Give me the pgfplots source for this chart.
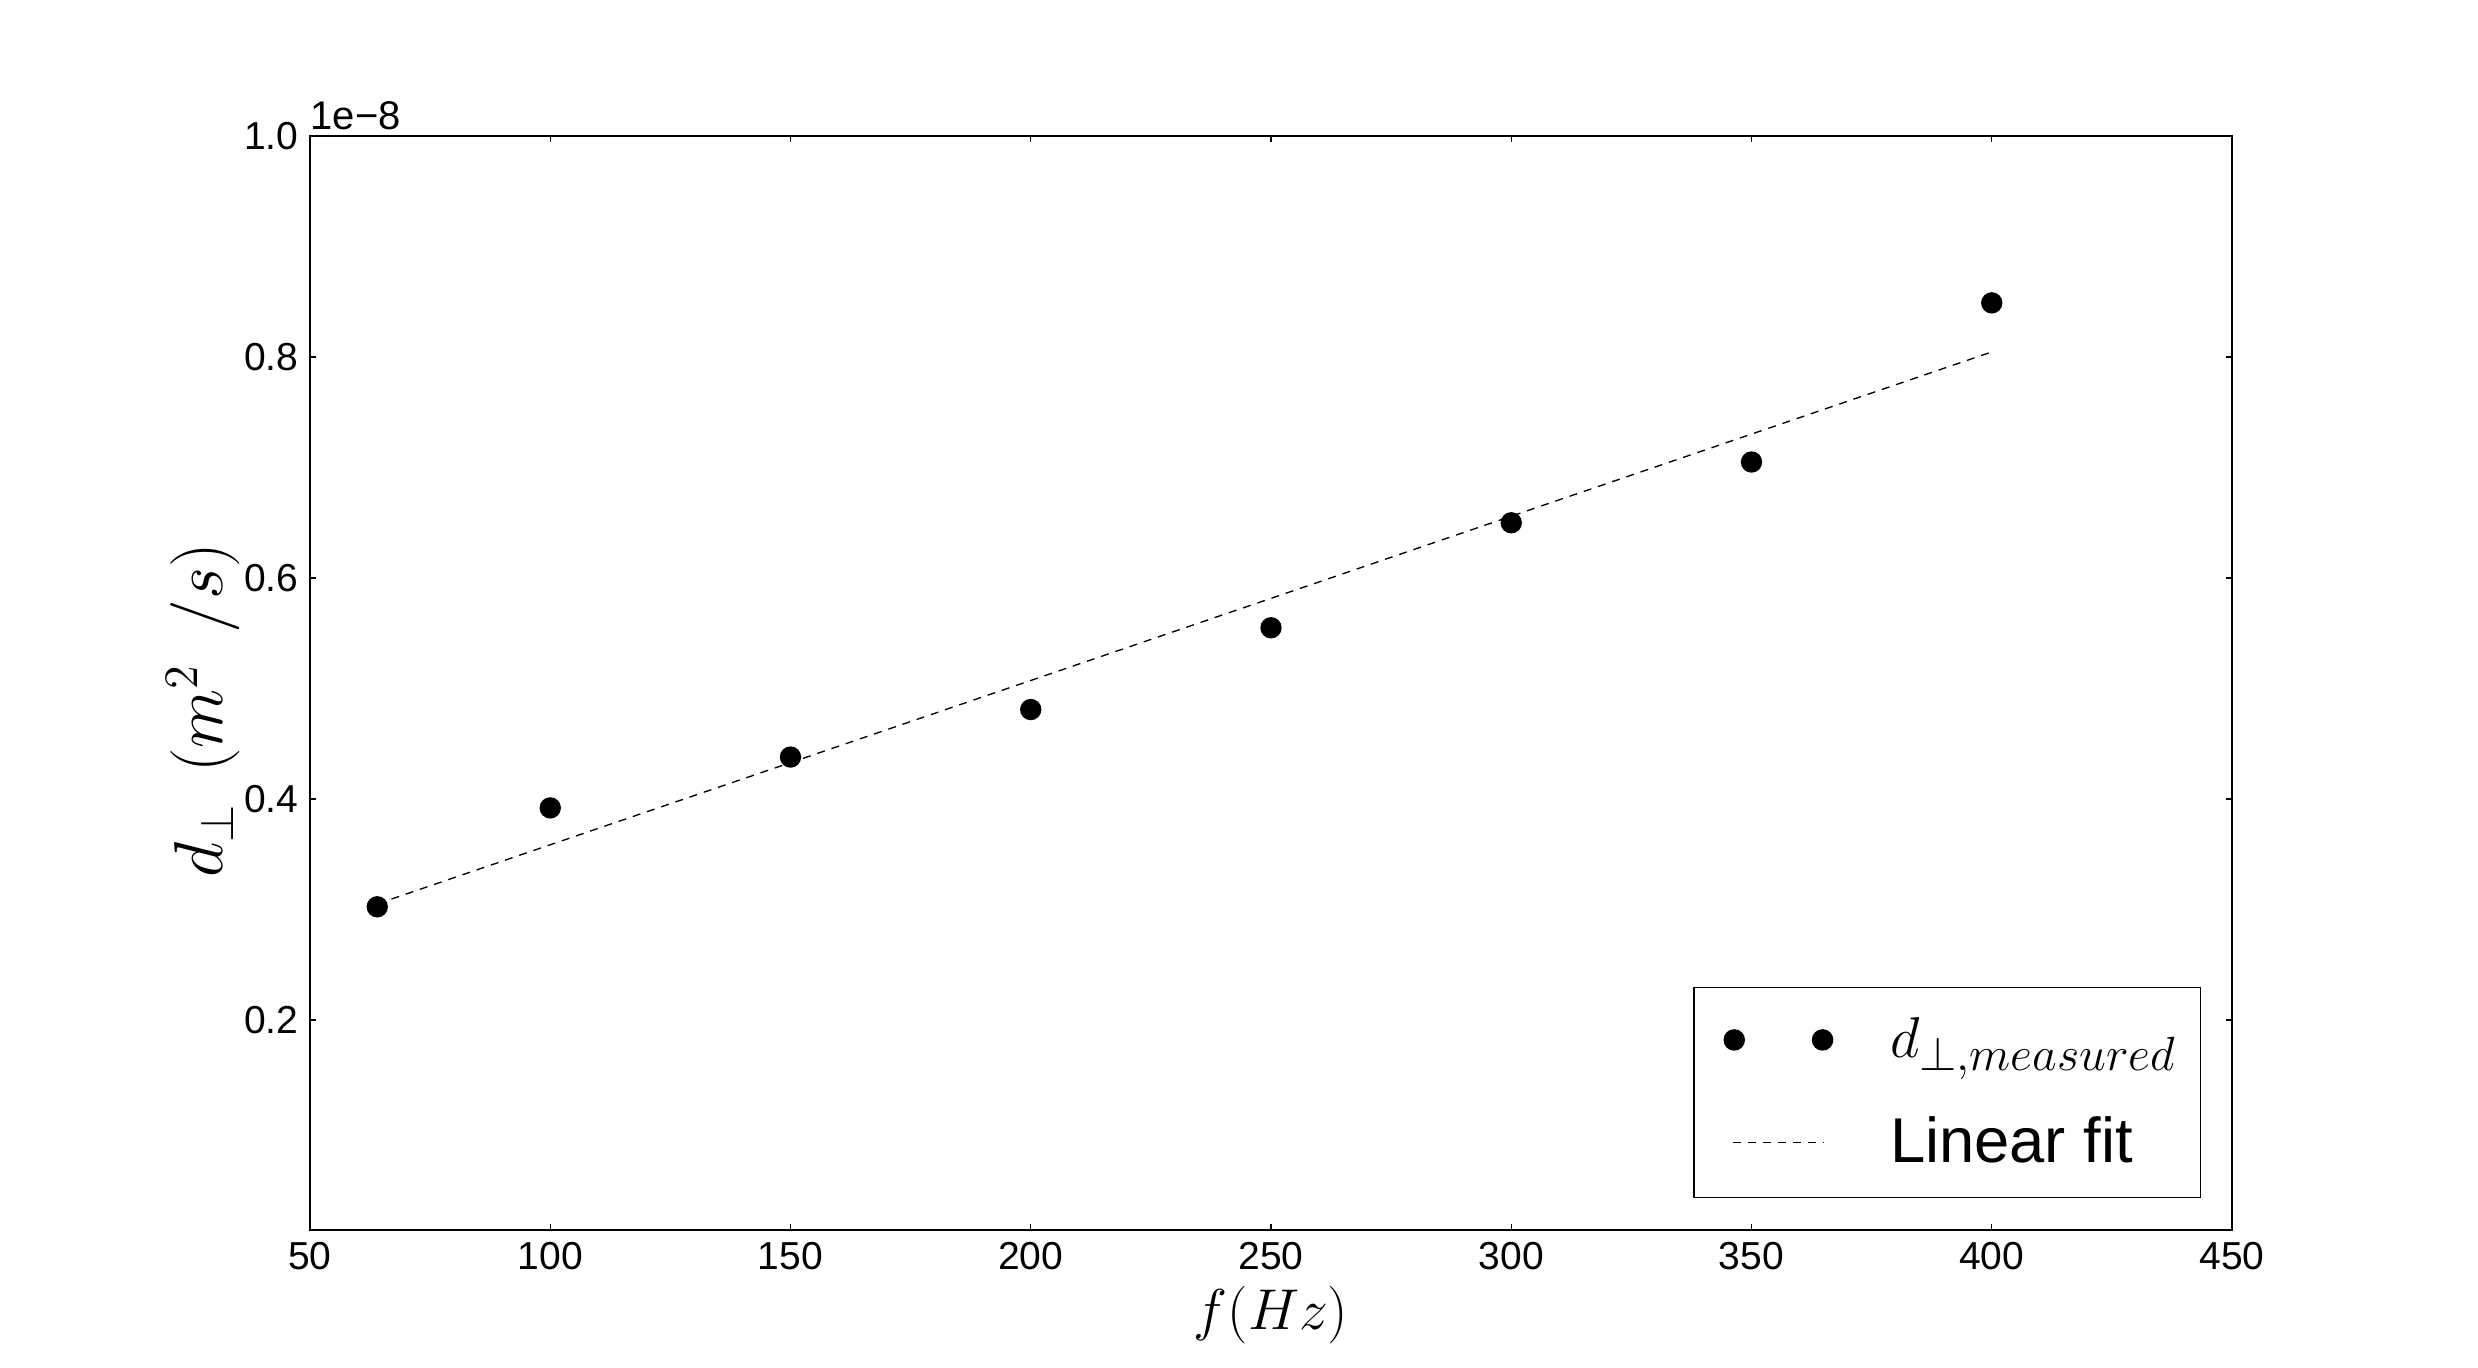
\documentclass[border=0pt]{standalone}
\usepackage[no-math]{fontspec}
\setmainfont{Liberation Sans}
\usepackage{pgfplots}
\pgfplotsset{compat=1.18}
\begin{document}
\begin{tikzpicture}
\begin{axis}[
  name=ax,
  scale only axis,
  clip mode=individual,
  width=576.6pt, height=328.2pt,
  xmin=50, xmax=450, ymin=0.01, ymax=1.0,
  xtick={50,100,150,200,250,300,350,400,450},
  ytick={0.2,0.4,0.6,0.8,1.0},
  /pgf/number format/assume math mode=true,
  yticklabel style={/pgf/number format/fixed,/pgf/number format/precision=1,/pgf/number format/fixed zerofill},
  xticklabel style={/pgf/number format/fixed},
  tick label style={font=\fontsize{11.7}{14}\selectfont},
  major tick length=1.8pt,
  tick align=inside,
  axis line style={line width=0.45pt},
  tick style={line width=0.4pt, black},
  xlabel={$f(Hz)$},
  ylabel={$d_{\perp}\ \,(m^2\ \,/s)$},
  xlabel style={font=\fontsize{18.7}{22}\selectfont, at={(axis description cs:0.5,-0.0777)}, anchor=center},
  ylabel style={font=\fontsize{20.3}{22}\selectfont, at={(axis description cs:-0.0555,0.475)}, anchor=center},
  legend cell align=left,
  legend style={at={(rel axis cs:0.984,0.0289)}, anchor=south east,
    draw=black, line width=0.45pt, font=\fontsize{19}{22}\selectfont,
    inner xsep=7.2pt, inner ysep=9pt, row sep=16.3pt, column sep=17pt,
    nodes={inner sep=0pt}},
]
\addplot[only marks, mark=*, mark size=3pt, black,
  legend image code/.code={\path[draw=none,fill=none] (-4.8pt,-0.1pt) rectangle (29.5pt,0.1pt); \fill[black] (0pt,0pt) circle (3pt); \fill[black] (26.5pt,0pt) circle (3pt);}]
  coordinates {(64,0.3025) (100,0.392) (150,0.438) (200,0.481) (250,0.555) (300,0.650) (350,0.705) (400,0.849)};
\addlegendentry{$\fontsize{20.6}{22}\selectfont d_{\perp,measured}$}
\addplot[black, line width=0.4pt, dash pattern=on 2.4pt off 2.1pt,
  legend image code/.code={\path[draw=none,fill=none] (-4.8pt,-0.1pt) rectangle (29.5pt,0.1pt); \draw[black, line width=0.4pt, dash pattern=on 2.4pt off 2.1pt] (-0.5pt,0pt) -- (27pt,0pt);}]
  coordinates {(64,0.3051) (400,0.8046)};
\addlegendentry{Linear fit}
\end{axis}
\node[anchor=south west, inner sep=0pt, yshift=1.5pt, font=\fontsize{12}{14}\selectfont] at (ax.north west) {1e−8};
\path[use as bounding box] ([xshift=-93pt,yshift=-41.1pt]ax.south west) rectangle ([xshift=73.8pt,yshift=40.8pt]ax.north east);
\end{tikzpicture}
\end{document}
